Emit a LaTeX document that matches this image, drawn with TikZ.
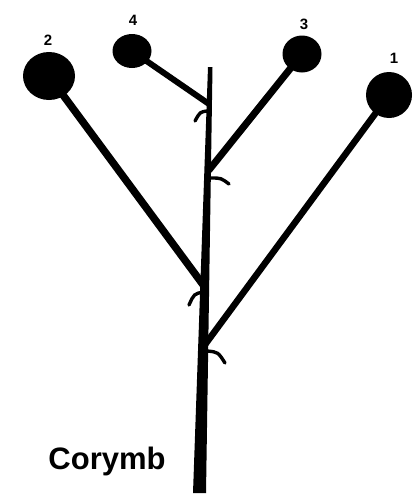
\documentclass[tikz,border=0pt]{standalone}
\usepackage{fontspec}
\setmainfont{Liberation Sans}
\usetikzlibrary{shapes.geometric}
\begin{document}
\begin{tikzpicture}[x=1pt,y=-1pt,
  flower/.style={ellipse, fill=black, inner sep=0pt},
  num/.style={font=\bfseries\fontsize{15}{15}\selectfont, inner sep=0pt},
  branch/.style={line width=6.5pt, line cap=round},
  bract/.style={line width=3.4pt, line cap=round}]
\useasboundingbox (0,0) rectangle (414,498);
% flowers
\node[flower, minimum width=52pt, minimum height=48pt] (f2) at (49,76) {};
\node[flower, minimum width=39pt, minimum height=34pt] (f4) at (132,51) {};
\node[flower, minimum width=39pt, minimum height=37pt] (f3) at (302,54) {};
\node[flower, minimum width=46pt, minimum height=46pt] (f1) at (389,95) {};
% labels
\node[num] (l2) at (48,40) {2};
\node[num] (l4) at (133,20) {4};
\node[num] (l3) at (304,24) {3};
\node[num] (l1) at (394,58) {1};
\node[font=\bfseries\fontsize{31}{31}\selectfont, inner sep=0pt] (name) at (107,461) {Corymb};
% stem
\coordinate (stemtop) at (210,67);
\coordinate (stembot) at (199.5,493);
\fill (208,67) -- (212.5,67) -- (206,493) -- (193,493) -- cycle;
% junctions
\coordinate (j4) at (209,104);
\coordinate (j3) at (209,170);
\coordinate (j2) at (204,286);
\coordinate (j1) at (204,346);
% branches
\draw[branch, line width=6pt] (f4.center) -- (j4);
\draw[branch, line width=7pt] (f3.center) -- (j3);
\draw[branch, line width=7.5pt] (f2.center) -- (j2);
\draw[branch, line width=6.5pt] (f1.center) -- (j1);
% bracts
\coordinate (b4) at (195,121);
\coordinate (b3) at (229,184);
\coordinate (b2) at (189,305);
\coordinate (b1) at (225,363);
\draw[bract] (207,111) .. controls (200,112) .. (b4);
\draw[bract] (211,178) .. controls (221,178) .. (b3);
\draw[bract] (203,292) .. controls (194,294) .. (b2);
\draw[bract] (207,351) .. controls (218,352) .. (b1);
\end{tikzpicture}
\end{document}
